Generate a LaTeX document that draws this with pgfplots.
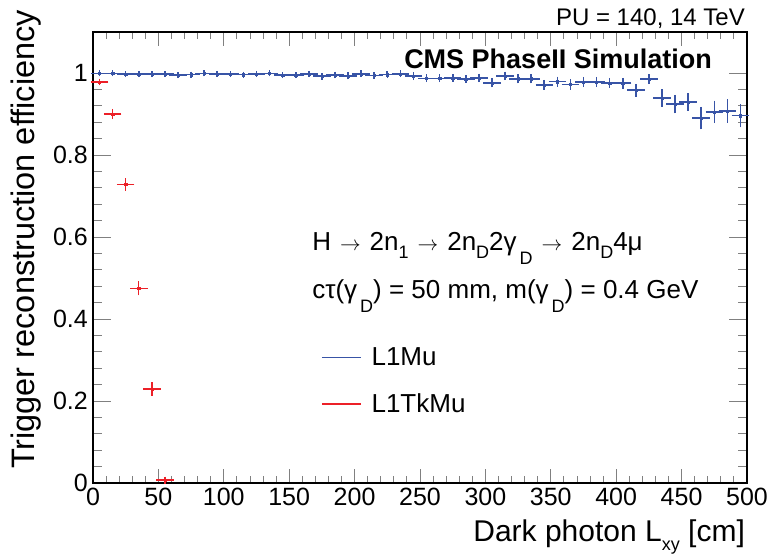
\documentclass[border=0pt]{standalone}
\usepackage{pgfplots}
\pgfplotsset{compat=1.18}
\usepackage{pgfplotstable}
\usepackage{fontspec}
\setmainfont{Liberation Sans}
\definecolor{cblue}{RGB}{56,84,166}
\definecolor{cred}{RGB}{236,32,40}
\newcommand\tickfont{\fontsize{25bp}{30bp}\selectfont}
\newcommand\txtfont{\fontsize{26bp}{31bp}\selectfont}
\newcommand\lsub[1]{\raisebox{-0.32em}{\fontsize{18bp}{18bp}\selectfont #1}}
\newcommand\gsub[1]{\hspace{3bp}\raisebox{-0.55em}{\fontsize{18bp}{18bp}\selectfont #1}}
\newcommand\arr{\hspace{9bp}{\fontsize{20bp}{20bp}\selectfont$\rightarrow$}\hspace{9bp}}

\pgfplotstableread{
x y ex ey
5 0.999 5 0.002
15 0.999 5 0.002
25 0.997 5 0.002
35 0.997 5 0.002
45 0.997 5 0.002
55 0.997 5 0.002
65 0.995 5 0.002
75 0.996 5 0.002
85 0.999 5 0.002
95 0.998 5 0.002
105 0.997 5 0.002
115 0.996 5 0.002
125 0.998 5 0.002
135 0.999 5 0.002
145 0.995 5 0.002
155 0.995 5 0.002
165 0.998 5 0.002
175 0.992 5 0.003
185 0.995 5 0.003
195 0.993 5 0.003
205 0.998 5 0.003
215 0.994 5 0.003
225 0.996 5 0.003
235 0.998 5 0.003
245 0.992 5 0.004
255 0.987 5 0.004
265 0.987 5 0.004
275 0.988 5 0.004
285 0.985 5 0.004
295 0.988 5 0.005
305 0.976 5 0.006
315 0.993 5 0.005
325 0.986 5 0.006
335 0.986 5 0.006
345 0.971 5 0.007
355 0.979 5 0.007
365 0.972 5 0.007
375 0.978 5 0.007
385 0.978 5 0.007
395 0.976 5 0.007
405 0.975 5 0.008
415 0.958 5 0.010
425 0.985 5 0.007
435 0.939 5 0.016
445 0.924 5 0.017
455 0.929 5 0.016
465 0.890 5 0.022
475 0.905 5 0.022
485 0.907 5 0.023
495 0.896 5 0.023
}\tabLoneMu

\pgfplotstableread{
x y ex ey
5 0.978 5 0.003
15 0.900 5 0.007
25 0.728 5 0.010
35 0.475 5 0.012
45 0.229 5 0.011
55 0.007 5 0.003
}\tabLoneTkMu

\begin{document}
\begin{tikzpicture}
\useasboundingbox (-93bp,-74bp) rectangle (677bp,483bp);
\begin{axis}[
  at={(0,0)}, anchor=south west,
  scale only axis, width=654bp, height=451bp,
  xmin=0, xmax=500, ymin=0, ymax=1.1,
  clip=false,
  axis line style={line width=1.2bp},
  tick align=inside,
  xtick={0,50,...,500}, minor x tick num=4,
  ytick={0,0.2,0.4,0.6,0.8,1}, minor y tick num=4,
  xtick style={line width=0.9bp, /pgfplots/major tick length=14bp, /pgfplots/minor tick length=7bp},
  ytick style={line width=0.9bp, /pgfplots/major tick length=18bp, /pgfplots/minor tick length=9bp},
  /pgf/number format/assume math mode=true,
  xticklabel style={font=\tickfont, inner sep=0pt, yshift=-5bp},
  yticklabel style={font=\tickfont, inner sep=0pt, xshift=-5bp},
  xlabel={Dark photon L\lsub{xy} [cm]},
  xlabel style={at={(axis description cs:0.997,-0.1286)}, anchor=base east, inner sep=0pt, font=\fontsize{30bp}{35bp}\selectfont},
  ylabel={Trigger reconstruction efficiency},
  ylabel style={at={(axis description cs:-0.0902,1.049)}, anchor=base east, inner sep=0pt, font=\fontsize{32.5bp}{37bp}\selectfont},
  legend cell align=left,
  legend image code/.code={\draw[#1, line width=1.6bp] (0bp,0bp) -- (39bp,0bp);},
  legend style={draw=none, fill=none, at={(rel axis cs:0.3486,0.300)}, anchor=north west,
    inner sep=0pt, outer sep=0pt, row sep=27bp, column sep=10bp,
    font=\txtfont, nodes={inner sep=0pt}},
]
\addplot[cblue, only marks, mark=square*, mark size=1.1bp, forget plot,
  error bars/.cd, x dir=both, x explicit, y dir=both, y explicit,
  error bar style={line width=1.6bp, cblue},
  error mark options={cblue, mark size=2.2bp, line width=1.6bp}]
  table[x=x, y=y, x error=ex, y error=ey] {\tabLoneMu};
\addplot[cred, only marks, mark=square*, mark size=1.1bp, forget plot,
  error bars/.cd, x dir=both, x explicit, y dir=both, y explicit,
  error bar style={line width=1.4bp, cred},
  error mark options={cred, mark size=2.2bp, line width=1.4bp}]
  table[x=x, y=y, x error=ex, y error=ey] {\tabLoneTkMu};
\addlegendimage{cblue}
\addlegendentry{L1Mu}
\addlegendimage{cred}
\addlegendentry{L1TkMu}

\node[anchor=base east, inner sep=0pt, font=\fontsize{24bp}{29bp}\selectfont] at (rel axis cs:0.997,1.0155) {PU = 140, 14 TeV};
\node[anchor=base east, inner sep=0pt, font=\fontsize{27bp}{32bp}\selectfont\bfseries] at (rel axis cs:0.9465,0.918) {CMS PhaseII Simulation};
\node[anchor=base west, inner sep=0pt, font=\txtfont] at (rel axis cs:0.335,0.5166) {H\arr 2n\lsub{1}\arr 2n\lsub{D}2γ\gsub{D}\arr 2n\lsub{D}4μ};
\node[anchor=base west, inner sep=0pt, font=\txtfont] at (rel axis cs:0.335,0.410) {cτ(γ\gsub{D}) = 50 mm, m(γ\gsub{D}) = 0.4 GeV};
\end{axis}
\end{tikzpicture}
\end{document}
